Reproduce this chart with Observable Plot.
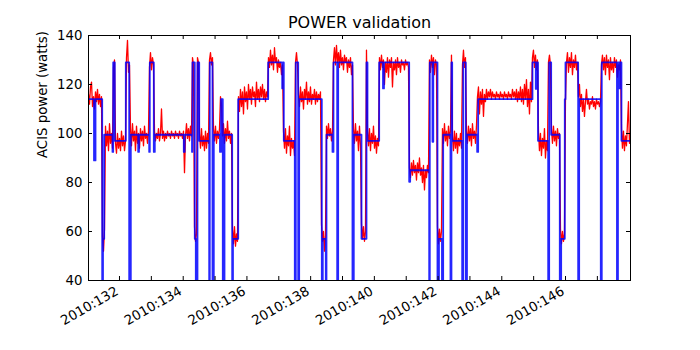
<!DOCTYPE html>
<html><head><meta charset="utf-8">
<script src="https://cdn.jsdelivr.net/npm/d3@7"></script>
<script src="https://cdn.jsdelivr.net/npm/@observablehq/plot@0.6"></script>
<style>body{margin:0;background:#fff;} #chart svg{display:block;}</style>
</head><body><div id="chart"></div>
<script>
const title = "POWER validation";
const yLabel = "ACIS power (watts)";
const yTicks = [40, 60, 80, 100, 120, 140];
const xLabelDays = [132, 134, 136, 138, 140, 142, 144, 146];
const xTickDays = [132, 133, 134, 135, 136, 137, 138, 139, 140, 141, 142, 143, 144, 145, 146, 147];
const xLabelYear = "2010";

// Model (blue) step breakpoints: day-of-year and power (0 = off scale)
const blueDay = [131.027,131.200,131.247,131.457,131.482,131.520,131.780,131.802,131.852,132.198,132.304,132.355,132.587,132.612,132.932,132.951,133.077,133.108,134.018,134.046,134.276,134.291,134.363,134.395,134.448,134.502,134.815,134.834,134.919,134.960,135.154,135.186,135.242,135.296,135.537,135.562,135.726,136.667,137.107,137.138,137.157,137.502,137.534,137.609,137.640,138.350,138.381,138.475,138.497,138.686,138.717,138.833,138.864,139.313,139.354,139.596,139.753,139.784,140.151,140.271,140.302,141.093,141.124,141.721,141.740,141.824,141.849,141.981,142.028,142.122,142.160,142.389,142.420,142.443,142.756,142.788,142.869,142.907,143.227,143.258,144.963,145.067,145.098,145.136,145.456,145.487,145.550,145.820,145.864,145.977,145.999,146.397,146.429,147.107,147.138,147.615,147.646,147.678,147.703,147.756,148.070];
const bluePower = [114,89,114,0,57,99.5,92.5,129,97,129,0,99.5,92.5,99.5,92.5,129,92.5,99.5,92.5,99.5,92.5,129,57,0,129,97,0,129,0,99.5,92.5,114,0,99.5,0,57,114,129,118.4,129,97,0,129,0,114,0,57,0,99.5,92.5,129,0,129,0,99.5,57,129,97,129,118.4,129,80.3,85,0,129,96.6,129,0,57,0,99.5,0,129,97,0,129,0,99.5,92.5,114,129,118.2,129,97,0,129,99.5,0,57,114,129,0,114,0,129,0,129,118.4,129,97,97];

// Telemetry (red): regularly sampled readings
const redStartDay = 131.027;
const redStepDay = 0.031387;
const redPower = [
116,112,119,121,111,115,110,117,113,118,112,116,111,115,
58,52,61,
103,95,101,93,104,96,100,94,
127,130,
96,92,100,94,98,93,101,95,99,93,97,
131,138,125,128,
102,95,104,97,101,93,103,96,100,94,102,97,101,95,103,98,100,96,101,
127,133,126,131,128,
101,97,100,98,102,97,100,110,98,101,97,100,98,101,99,100,98,101,99,100,98,101,99,100,98,101,99,100,98,101,84,99,104,98,102,97,103,99,
131,128,
62,56,59,
131,129,
100,94,102,95,99,93,101,94,100,96,
130,133,128,131,
102,97,103,96,101,98,102,
115,112,
99,104,96,102,97,105,98,101,96,100,
61,55,62,54,59,56,
115,109,118,111,117,108,119,113,117,110,120,114,118,112,119,115,117,111,121,114,118,113,119,115,120,114,118,113,117,115,
131,127,134,128,132,126,135,129,131,125,130,127,129,124,128,
101,94,102,92,99,95,103,91,98,94,97,91,
129,133,128,
116,111,119,113,117,110,118,114,121,112,117,113,119,112,116,114,118,112,117,113,116,114,117,
63,56,60,52,58,
103,98,104,99,102,97,101,
130,135,128,136,129,133,127,134,128,131,126,132,129,131,125,130,127,131,124,128,
102,96,104,97,101,93,103,95,
63,57,62,56,60,
134,
101,95,102,93,100,96,103,94,99,92,98,95,
131,126,132,127,130,120,129,125,131,123,130,127,131,119,129,126,130,124,131,127,129,125,130,128,129,126,130,128,129,127,
86,82,88,83,89,84,87,81,88,84,90,83,86,80,87,77,85,82,87,84,
130,125,132,127,131,124,130,128,
62,55,61,56,60,
102,96,104,97,101,95,103,98,101,
132,
99,93,101,94,100,92,98,95,100,94,
128,134,127,131,
101,96,103,97,102,95,104,98,101,96,103,
115,119,108,117,112,118,107,116,113,118,114,117,115,118,114,117,115,116,114,117,115,116,114,117,115,116,114,117,115,116,114,117,115,116,114,118,115,117,114,118,113,117,114,119,113,118,112,120,114,122,111,118,108,121,113,
131,134,127,132,126,130,
101,93,100,91,98,94,102,90,97,93,
129,132,128,
102,96,103,97,101,95,102,98,100,
61,55,60,56,59,
114,129,133,125,131,127,133,124,130,127,132,126,129,
115,120,111,116,109,114,107,113,118,112,114,110,113,112,115,111,113,110,114,112,113,111,113,
128,132,126,131,124,132,127,130,122,131,126,129,125,131,127,130,123,128,126,130,
102,94,101,93,99,95,104,113,96,100
];

const blue = blueDay.map((d, i) => ({day: d, power: bluePower[i]}));
const red = redPower.map((p, i) => ({day: redStartDay + i * redStepDay, power: p}));

const font = "DejaVu Sans, Bitstream Vera Sans, sans-serif";
const chart = Plot.plot({
  width: 700,
  height: 350,
  marginLeft: 88,
  marginRight: 70,
  marginTop: 35,
  marginBottom: 70,
  style: {fontFamily: font, fontSize: "13.3px", color: "black", background: "white"},
  x: {type: "linear", domain: [131.027, 148.04], axis: null},
  y: {type: "linear", domain: [40, 140], axis: null},
  marks: [
    Plot.line(red, {x: "day", y: "power", stroke: "#ff0000", strokeWidth: 1.3, clip: true}),
    Plot.line(blue, {x: "day", y: "power", stroke: "#0000ff", strokeWidth: 1.8, strokeOpacity: 0.85, curve: "step-after", clip: true}),
    Plot.frame({stroke: "black", strokeWidth: 1}),
    // inward ticks, bottom & top
    Plot.ruleX(xTickDays, {x: d => d, stroke: "black", insetTop: 241}),
    Plot.ruleX(xTickDays, {x: d => d, stroke: "black", insetBottom: 241}),
    // inward ticks, left & right
    Plot.ruleY(yTicks, {y: d => d, stroke: "black", insetRight: 538}),
    Plot.ruleY(yTicks, {y: d => d, stroke: "black", insetLeft: 538}),
    Plot.text(yTicks, {y: d => d, frameAnchor: "left", textAnchor: "end", dx: -6, text: d => String(d), fill: "black", fontSize: 13.3}),
    Plot.text(xLabelDays, {x: d => d, frameAnchor: "bottom", textAnchor: "end", lineAnchor: "top", rotate: -30, dx: -5, dy: 5, text: d => `${xLabelYear}:${d}`, fill: "black", fontSize: 13.3}),
    Plot.text([yLabel], {frameAnchor: "left", rotate: -90, dx: -46, text: d => d, fill: "black", fontSize: 13.3}),
    Plot.text([title], {frameAnchor: "top", lineAnchor: "middle", dy: -13, text: d => d, fill: "black", fontSize: 16})
  ]
});
document.getElementById("chart").appendChild(chart);
</script>
</body></html>
